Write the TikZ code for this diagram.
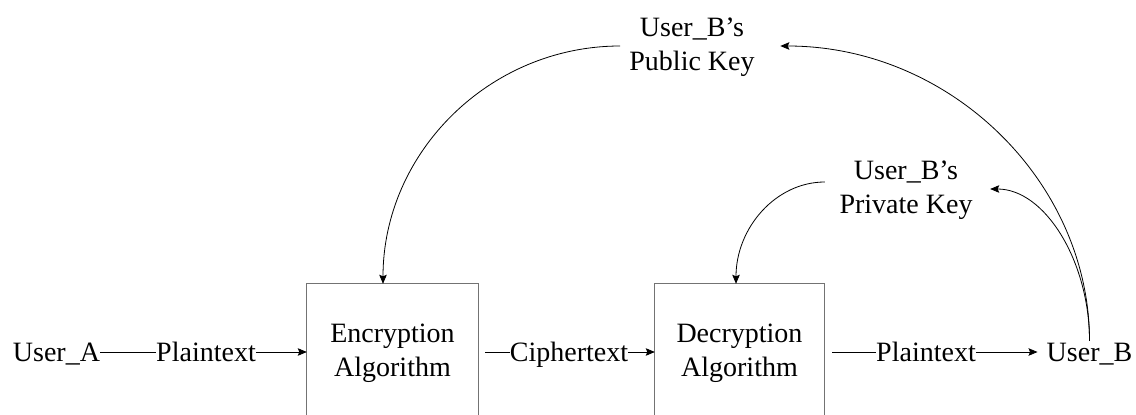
\documentclass[tikz,border=0pt]{standalone}
\usepackage{fontspec}
\setmainfont{Liberation Serif}
\usetikzlibrary{arrows.meta,calc}
\begin{document}
\begin{tikzpicture}[x=1pt,y=-1pt,
  every node/.style={font=\fontsize{28}{34}\selectfont},
  lbl/.style={inner sep=0pt, text height=20pt, text depth=2pt},
  keylbl/.style={inner sep=0pt, align=center},
  algbox/.style={inner sep=0pt, align=center, minimum width=171pt, minimum height=139pt},
  frame/.style={draw=black!55, line width=1.2pt},
  link/.style={draw=black, line width=0.8pt},
  flow/.style={link, -{Stealth[length=9pt,width=7.5pt,inset=1.5pt]}}
]
\useasboundingbox (0,0) rectangle (1136,415);
\clip (0,0) rectangle (1136,415);

% main row
\node[lbl] (userA) at (56.5,352) {User\_A};
\node[lbl] (pt1) at (206,352) {Plaintext};
\node[algbox] (enc) at (392.5,353.5) {Encryption\\Algorithm};
\node[lbl] (ct) at (569,352) {Ciphertext};
\node[algbox, minimum width=169pt] (dec) at (739.5,353.5) {Decryption\\Algorithm};
\node[lbl] (pt2) at (926,352) {Plaintext};
\node[lbl] (userB) at (1089.5,352) {User\_B};

% keys
\node[keylbl] (pub) at (692,47.5) {User\_B’s\\Public Key};
\node[keylbl] (priv) at (906,190.5) {User\_B’s\\Private Key};

% algorithm boxes, open at the bottom
\draw[frame] (enc.south west) -- (enc.north west) -- (enc.north east) -- (enc.south east);
\draw[frame] (dec.south west) -- (dec.north west) -- (dec.north east) -- (dec.south east);

% data flow
\draw[link] (userA.east) -- (pt1.west);
\draw[flow] (pt1.east) -- (pt1.east -| enc.west);
\draw[link, shorten <=7pt] (ct.west -| enc.east) -- (ct.west);
\draw[flow] (ct.east) -- (ct.east -| dec.west);
\draw[link, shorten <=8pt] (pt2.west -| dec.east) -- (pt2.west);
\draw[flow, shorten >=9pt] (pt2.east) -- (userB.west);

% key distribution
\draw[flow] ($(pub.west)+(-9,-1.5)$) .. controls +(-131,0) and +(0,-131) .. ($(enc.north)+(-9.5,0)$);
\draw[flow] ($(priv.west)+(-14.5,-8.5)$) .. controls +(-49,0) and +(0,-56) .. ($(dec.north)+(-3.5,0)$);
\draw[flow] (userB.north) .. controls +(0,-158) and +(171,0) .. ($(pub.east)+(25.5,-1.5)$);
\draw[flow] (userB.north) .. controls +(0,-79) and +(55,0) .. ($(priv.east)+(17.5,-1.5)$);
\end{tikzpicture}
\end{document}
